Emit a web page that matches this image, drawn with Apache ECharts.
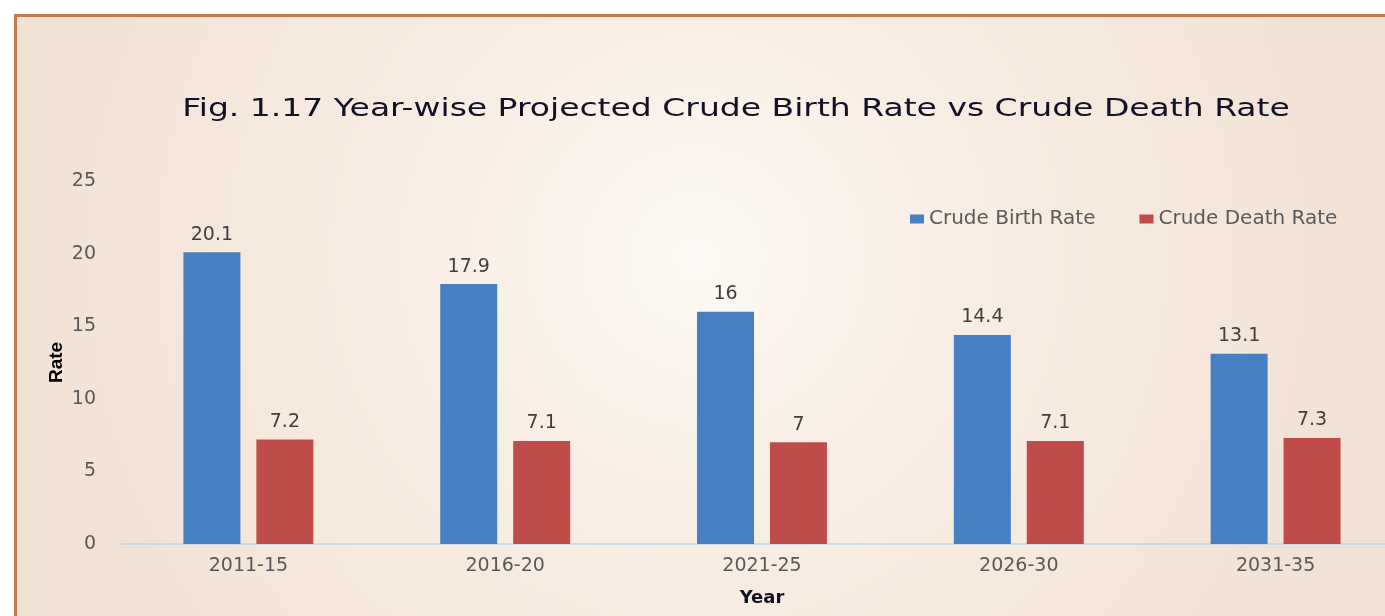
<!DOCTYPE html>
<html>
<head>
<meta charset="utf-8">
<script src="https://cdn.jsdelivr.net/npm/echarts@6/dist/echarts.min.js"></script>
<style>
  html, body { margin: 0; padding: 0; background: #ffffff; }
  #main { width: 1385px; height: 616px; }
</style>
</head>
<body>
<div id="main"></div>
<script>
// data
const titleText = 'Fig. 1.17 Year-wise Projected Crude Birth Rate vs Crude Death Rate';
const years = ['2011-15', '2016-20', '2021-25', '2026-30', '2031-35'];
const birthRate = [20.1, 17.9, 16, 14.4, 13.1];
const deathRate = [7.2, 7.1, 7, 7.1, 7.3];

const chart = echarts.init(document.getElementById('main'));

const tickFont = { color: '#595959', fontFamily: 'DejaVu Sans', fontSize: 19 };
const valueLabel = { show: true, position: 'top', distance: 8, color: '#404040', fontFamily: 'DejaVu Sans', fontSize: 19 };

const option = {
  backgroundColor: '#ffffff',
  animation: false,
  graphic: [
    // panel background + orange frame
    {
      type: 'rect',
      z: -100,
      silent: true,
      shape: { x: 15.5, y: 15.5, width: 1420, height: 640 },
      style: {
        fill: {
          type: 'radial', x: 0.48, y: 0.38, r: 1.0,
          colorStops: [
            { offset: 0, color: '#fdf9f4' },
            { offset: 0.35, color: '#f9efe6' },
            { offset: 1, color: '#f3e3d6' }
          ]
        },
        stroke: '#c97a4c',
        lineWidth: 3
      }
    },
    // title, stretched wide like the original
    {
      type: 'text',
      x: 736,
      y: 109,
      scaleX: 1.32,
      silent: true,
      style: {
        text: titleText,
        align: 'center',
        verticalAlign: 'middle',
        fontFamily: 'DejaVu Sans',
        fontSize: 25,
        fill: '#121226'
      }
    }
  ],
  legend: {
    left: 905,
    top: 204,
    itemWidth: 14,
    itemHeight: 9,
    itemGap: 44,
    icon: 'rect',
    textStyle: { color: '#595959', fontFamily: 'DejaVu Sans', fontSize: 20 },
    data: ['Crude Birth Rate', 'Crude Death Rate']
  },
  grid: { left: 120, top: 181, width: 1284, height: 363, outerBoundsMode: 'none' },
  xAxis: {
    type: 'category',
    data: years,
    name: 'Year',
    nameLocation: 'middle',
    nameGap: 45,
    nameMoveOverlap: false,
    nameTextStyle: { color: '#111122', fontFamily: 'DejaVu Sans', fontWeight: 'bold', fontSize: 18 },
    axisLine: { lineStyle: { color: '#c6d4e2', width: 1.5 } },
    axisTick: { show: false },
    axisLabel: Object.assign({ margin: 13 }, tickFont)
  },
  yAxis: {
    type: 'value',
    min: 0,
    max: 25,
    interval: 5,
    name: 'Rate',
    nameLocation: 'middle',
    nameRotate: 90,
    nameGap: 54,
    nameMoveOverlap: false,
    nameTextStyle: { color: '#000000', fontFamily: 'Liberation Sans', fontWeight: 'bold', fontSize: 19 },
    axisLine: { show: false },
    axisTick: { show: false },
    splitLine: { show: false },
    axisLabel: Object.assign({ margin: 24 }, tickFont)
  },
  series: [
    {
      name: 'Crude Birth Rate',
      type: 'bar',
      data: birthRate,
      barWidth: 57,
      barGap: '28%',
      itemStyle: { color: '#4680c2' },
      label: valueLabel
    },
    {
      name: 'Crude Death Rate',
      type: 'bar',
      data: deathRate,
      barWidth: 57,
      barGap: '28%',
      itemStyle: { color: '#c04c4a' },
      label: valueLabel
    }
  ]
};

chart.setOption(option);
</script>
</body>
</html>
